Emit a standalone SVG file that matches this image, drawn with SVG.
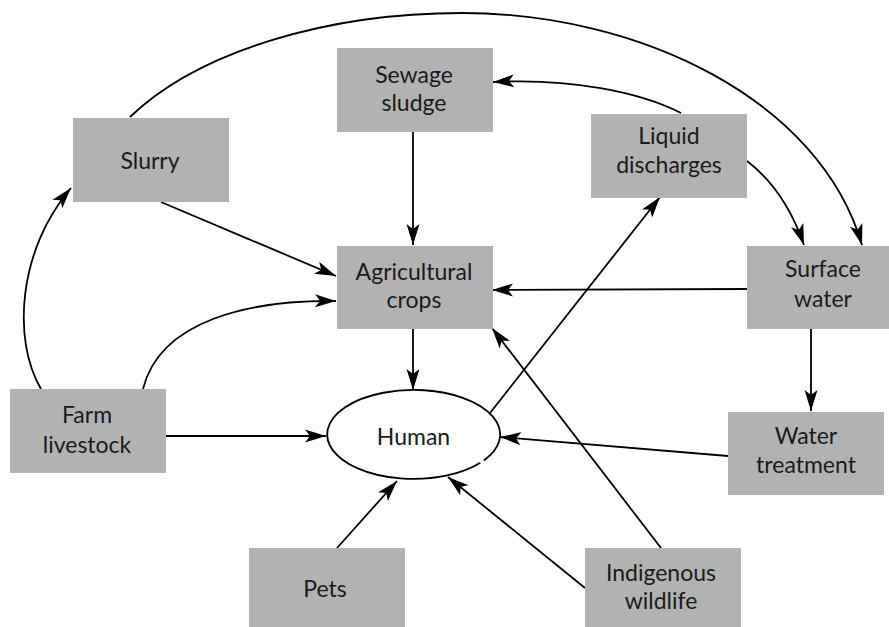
<svg xmlns="http://www.w3.org/2000/svg" width="889" height="627" viewBox="0 0 889 627">
<style>
.box{fill:#b2b2b2;stroke:none}
.lbl{font-family:Lato,"Open Sans","Liberation Sans",sans-serif;font-size:23px;fill:#1a1a1a;text-anchor:middle}
.c{fill:none;stroke:#000;stroke-width:1.8;marker-end:url(#ah)}
</style>
<defs>
<marker id="ah" markerUnits="userSpaceOnUse" viewBox="-21 -7 22 14" refX="0" refY="0" markerWidth="22" markerHeight="14" orient="auto">
<path d="M0,0 L-21,-6.5 L-16,0 L-21,6.5 Z" fill="#000"/>
</marker>
</defs>
<rect width="889" height="627" fill="#fff"/>
<g id="connectors">
<path class="c" d="M130,117 C200,50 330,13 462,13 C640,13 820,100 862,245"/>
<path class="c" d="M681,113 C640,92 570,78 493,82"/>
<path class="c" d="M747,161 Q785,190 804,245"/>
<path class="c" d="M413,131 L413,245"/>
<path class="c" d="M161,202 L336,276"/>
<path class="c" d="M143,389 C160,320 250,300 336,301"/>
<path class="c" d="M41,389 C12,340 18,250 71,188"/>
<path class="c" d="M747,289 L492,290"/>
<path class="c" d="M413,329 L413,390"/>
<path class="c" d="M165,436 L326,436"/>
<path class="c" d="M811,329 L811,411"/>
<path class="c" d="M728,456 L500,437"/>
<path class="c" d="M337,548 L397,481"/>
<path class="c" d="M585,588 L448,477"/>
<path class="c" d="M661,548 L492,328"/>
<path class="c" d="M490,413 L660,197"/>
</g>
<g id="slurry"><rect class="box" x="73" y="118" width="156" height="84"/><text class="lbl" x="150" y="169">Slurry</text></g>
<g id="sewage-sludge"><rect class="box" x="337" y="48" width="156" height="84"/><text class="lbl" x="414" y="83">Sewage</text><text class="lbl" x="414" y="111">sludge</text></g>
<g id="liquid-discharges"><rect class="box" x="591" y="114" width="156" height="84"/><text class="lbl" x="669" y="144">Liquid</text><text class="lbl" x="669" y="173">discharges</text></g>
<g id="agricultural-crops"><rect class="box" x="337" y="246" width="156" height="83"/><text class="lbl" x="414" y="280">Agricultural</text><text class="lbl" x="414" y="308">crops</text></g>
<g id="surface-water"><rect class="box" x="747" y="246" width="142" height="83"/><text class="lbl" x="823" y="277">Surface</text><text class="lbl" x="823" y="307">water</text></g>
<g id="farm-livestock"><rect class="box" x="10" y="389" width="156" height="84"/><text class="lbl" x="87" y="423">Farm</text><text class="lbl" x="87" y="453">livestock</text></g>
<g id="human"><path d="M483.9,460.4 A86.5,44.5 0 1 0 480.3,462.8" fill="#fff" stroke="#000" stroke-width="1.8"/><text class="lbl" x="413.5" y="445">Human</text></g>
<g id="water-treatment"><rect class="box" x="728" y="412" width="156" height="83"/><text class="lbl" x="806" y="444">Water</text><text class="lbl" x="806" y="473">treatment</text></g>
<g id="pets"><rect class="box" x="249" y="548" width="156" height="79"/><text class="lbl" x="325" y="597">Pets</text></g>
<g id="indigenous-wildlife"><rect class="box" x="585" y="548" width="156" height="79"/><text class="lbl" x="661" y="581">Indigenous</text><text class="lbl" x="661" y="609">wildlife</text></g>
</svg>
